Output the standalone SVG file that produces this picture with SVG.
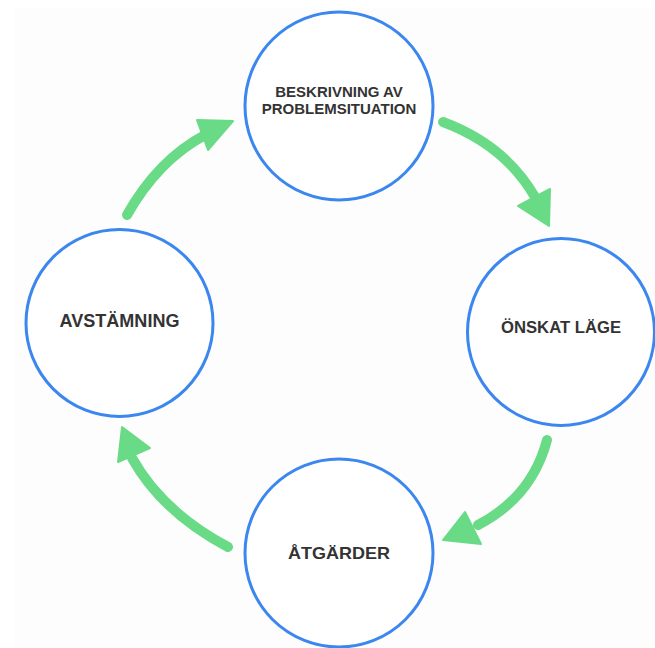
<svg xmlns="http://www.w3.org/2000/svg" width="655" height="648" viewBox="0 0 655 648">
<style>
.node circle{fill:#ffffff;stroke:#3b87ef;stroke-width:3}
.lbl{font-family:"Liberation Sans",Arial,sans-serif;font-weight:bold;fill:#333333;text-anchor:middle}
.shaft{fill:none;stroke:#69da86;stroke-width:10;stroke-linecap:round}
.head{fill:#69da86;stroke:#69da86;stroke-width:2;stroke-linejoin:round}
</style>
<rect x="0" y="0" width="655" height="648" fill="#ffffff"/>
<rect x="15" y="8" width="640" height="640" fill="#fdfdfd"/>
<g id="connectors">
<path class="shaft" d="M443,122 Q505,145 535,197"/>
<polygon class="head" points="549,226 518,206 550,189"/>
<path class="shaft" d="M547,440 Q532,497 478,525"/>
<polygon class="head" points="443,540 465,512 481,544"/>
<path class="shaft" d="M228,547 Q162,512 132,458"/>
<polygon class="head" points="122,427 118,462 150,448"/>
<path class="shaft" d="M127,215 Q158,160 205,135"/>
<polygon class="head" points="233,121 197,120 208,150"/>
</g>
<g id="node-beskrivning" class="node">
<circle cx="339" cy="106" r="94"/>
<text class="lbl" x="339" y="96.5" font-size="15">BESKRIVNING AV</text>
<text class="lbl" x="339" y="113.5" font-size="15">PROBLEMSITUATION</text>
</g>
<g id="node-onskat" class="node">
<circle cx="561" cy="332" r="93.5"/>
<text class="lbl" x="561" y="332.5" font-size="16" textLength="120" lengthAdjust="spacingAndGlyphs">ÖNSKAT LÄGE</text>
</g>
<g id="node-atgarder" class="node">
<circle cx="339" cy="553" r="94"/>
<text class="lbl" x="339" y="559" font-size="16.5" textLength="102" lengthAdjust="spacingAndGlyphs">ÅTGÄRDER</text>
</g>
<g id="node-avstamning" class="node">
<circle cx="119.5" cy="323" r="93.5"/>
<text class="lbl" x="119.5" y="326.5" font-size="17.5" textLength="120" lengthAdjust="spacingAndGlyphs">AVSTÄMNING</text>
</g>
</svg>
